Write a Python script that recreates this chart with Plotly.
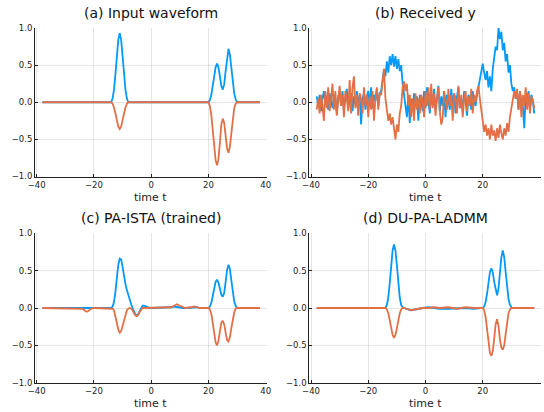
import plotly.graph_objects as go

# ---------------- data ----------------
# (a) input waveform (sparse samples; flat zero stretches between them)
t_a = [-38, -14, -13.5, -13, -12.5, -12, -11.5, -11, -10.5, -10, -9.5, -9, -8.5, -8,
       20, 20.5, 21, 21.5, 22, 22.5, 23, 23.5, 24, 24.5, 25, 25.5, 26, 26.5, 27, 27.5,
       28, 28.5, 29, 29.5, 30, 38]
xr_a = [0.0, 0.0, 0.05, 0.17, 0.38, 0.62, 0.84, 0.93, 0.84, 0.62, 0.38, 0.17, 0.05, 0.0,
        0.0, 0.03, 0.10, 0.22, 0.36, 0.47, 0.52, 0.47, 0.35, 0.22, 0.17, 0.24, 0.42, 0.62,
        0.72, 0.64, 0.46, 0.27, 0.12, 0.04, 0.0, 0.0]
xi_a = [0.0, 0.0, -0.02, -0.07, -0.15, -0.24, -0.33, -0.36, -0.33, -0.24, -0.15, -0.07, -0.02, 0.0,
        0.0, -0.05, -0.17, -0.38, -0.60, -0.78, -0.85, -0.76, -0.54, -0.30, -0.22, -0.28, -0.45,
        -0.62, -0.68, -0.60, -0.42, -0.22, -0.08, -0.02, 0.0, 0.0]

# (b) received y, t = -38:0.5:38
t_b = [-38 + 0.5 * i for i in range(153)]
yr_b = [0.08, -0.05, 0.10, -0.12, 0.05, 0.15, -0.02, 0.08, -0.10, 0.12,
        0.02, -0.08, 0.10, 0.05, -0.15, 0.08, 0.12, -0.05, 0.15, -0.10,
        0.05, 0.18, -0.08, 0.02, 0.12, -0.12, 0.08, -0.02, 0.15, -0.05,
        0.10, -0.30, 0.05, 0.12, -0.10, 0.08, 0.15, -0.05, 0.20, -0.08,
        0.10, 0.02, 0.18, -0.05, 0.12,
        0.15, 0.30, 0.45, 0.35, 0.55, 0.40, 0.62, 0.50, 0.65, 0.48,
        0.62, 0.45, 0.58, 0.42, 0.50, 0.25, 0.05,
        -0.05, -0.20, 0.10, -0.28, 0.05, -0.10, 0.12, -0.05, 0.08, -0.25,
        0.10, 0.02, -0.12, 0.15, -0.08, 0.20, 0.05, -0.15, 0.12, -0.05,
        0.18, -0.10, 0.05, 0.22, -0.12, 0.08, -0.05, 0.15, -0.20, 0.10,
        0.02, -0.10, 0.18, -0.05, 0.12, -0.15, 0.08, 0.20, -0.08, 0.05,
        -0.12, 0.15, 0.02, -0.18, 0.10, 0.05, -0.10, 0.15, 0.00, -0.05,
        0.10, 0.20, 0.35, 0.45,
        0.52, 0.40, 0.30, 0.42, 0.20, 0.35, 0.15, 0.45, 0.60, 0.75,
        0.70, 1.00, 0.85, 0.95, 0.70, 0.80, 0.55, 0.65, 0.40, 0.50,
        0.25, 0.15, 0.20,
        0.05, 0.12, -0.10, 0.15, 0.00, -0.05, -0.35, 0.10, 0.05, 0.15,
        -0.08, 0.10, 0.02, -0.15]
yi_b = [-0.10, 0.05, -0.15, 0.10, -0.05, -0.25, 0.15, -0.08, 0.20, -0.12,
        0.05, 0.25, -0.10, 0.15, -0.18, 0.08, 0.22, -0.05, 0.10, -0.20,
        0.15, 0.05, -0.12, 0.30, -0.15, 0.20, 0.35, -0.08, 0.10, -0.18,
        0.12, 0.05, -0.15, 0.20, -0.05, 0.10, -0.20, 0.08, -0.10, 0.15,
        -0.25, 0.05, 0.20, -0.10, 0.12,
        0.10, 0.30, 0.45, 0.05, -0.10, -0.25, -0.15, -0.30, -0.20, -0.40,
        -0.50, -0.30, -0.40, -0.15, -0.05, 0.20, 0.28,
        0.15, 0.25, -0.05, 0.10, -0.20, 0.05, -0.25, 0.12, -0.10, 0.05,
        -0.15, 0.10, 0.02, -0.20, 0.15, -0.05, 0.20, -0.10, 0.25, -0.08,
        0.12, -0.18, 0.05, 0.20, -0.12, -0.30, -0.22, 0.15, 0.02, -0.10,
        0.18, -0.05, 0.10, -0.25, 0.12, 0.05, -0.15, 0.22, -0.08, 0.10,
        -0.20, 0.05, 0.15, -0.12, 0.08, -0.05, 0.18, -0.15, 0.10, 0.00,
        0.15, 0.22, 0.05, -0.15,
        -0.25, -0.40, -0.30, -0.45, -0.35, -0.50, -0.30, -0.45, -0.38, -0.52,
        -0.35, -0.48, -0.30, -0.42, -0.50, -0.35, -0.45, -0.28, -0.40, -0.20,
        -0.10, 0.05, 0.15,
        0.05, 0.18, -0.10, 0.15, -0.20, 0.10, -0.05, 0.20, -0.10, 0.12,
        -0.15, 0.08, 0.02, -0.08]

# (c) PA-ISTA (trained)
t_c = [-38, -25, -24, -23, -22.5, -22, -21, -20,
       -14, -13.5, -13, -12.5, -12, -11.5, -11, -10.5, -10, -9.5, -9, -8.5, -8,
       -7.5, -7, -6.5, -6, -5.5, -5, -4.5, -4, -3.5, -3, -2.5, -2, -1.5, -1, 0,
       4, 6, 7, 8, 9, 10, 11, 12, 14, 15, 16, 17, 19,
       20, 20.5, 21, 21.5, 22, 22.5, 23, 23.5, 24, 24.5, 25, 25.5, 26, 26.5, 27, 27.5,
       28, 28.5, 29, 29.5, 30, 38]
xr_c = [0.0, 0.0, 0.01, 0.01, 0.01, 0.01, 0.0, 0.0,
        0.0, 0.02, 0.08, 0.22, 0.42, 0.58, 0.66, 0.65, 0.55, 0.42, 0.32, 0.24, 0.17,
        0.11, 0.05, 0.00, -0.05, -0.09, -0.10, -0.08, -0.04, 0.00, 0.03, 0.03, 0.02, 0.01, 0.01, 0.0,
        0.0, 0.01, 0.01, 0.02, 0.01, 0.01, 0.0, 0.0, 0.01, 0.01, 0.01, 0.0, 0.0,
        0.0, 0.02, 0.07, 0.16, 0.27, 0.35, 0.38, 0.34, 0.26, 0.18, 0.15, 0.20, 0.35, 0.51,
        0.58, 0.52, 0.37, 0.21, 0.09, 0.03, 0.0, 0.0]
xi_c = [0.0, 0.0, -0.01, -0.04, -0.05, -0.04, -0.01, 0.0,
        0.0, -0.01, -0.03, -0.10, -0.20, -0.29, -0.33, -0.31, -0.24, -0.15, -0.08, -0.03, -0.01,
        0.0, -0.01, -0.03, -0.07, -0.10, -0.11, -0.09, -0.05, -0.02, 0.0, 0.0, 0.0, 0.0, 0.0, 0.0,
        0.0, 0.0, 0.01, 0.03, 0.05, 0.03, 0.01, 0.0, 0.01, 0.02, 0.01, 0.0, 0.0,
        0.0, -0.02, -0.08, -0.20, -0.35, -0.46, -0.50, -0.44, -0.31, -0.20, -0.17, -0.22,
        -0.33, -0.43, -0.45, -0.39, -0.27, -0.14, -0.06, -0.01, 0.0, 0.0]

# (d) DU-PA-LADMM
t_d = [-38, -30, -24, -20, -17, -15, -14, -13.5, -13, -12.5, -12, -11.5, -11, -10.5, -10,
       -9.5, -9, -8.5, -8, -7.5, -7, -6, -5, -4, -3, -1, 1, 3, 5, 8, 11, 14, 17,
       20, 20.5, 21, 21.5, 22, 22.5, 23, 23.5, 24, 24.5, 25, 25.5, 26, 26.5, 27, 27.5,
       28, 28.5, 29, 29.5, 30, 30.5, 38]
xr_d = [0.0, 0.0, 0.01, 0.0, 0.01, 0.0, 0.0, 0.04, 0.14, 0.33, 0.57, 0.77, 0.85, 0.77, 0.57,
        0.33, 0.14, 0.04, 0.01, 0.0, -0.01, -0.02, -0.03, -0.02, -0.01, 0.0, 0.01, 0.0, -0.01, -0.01, 0.0, 0.0, -0.01,
        0.0, 0.02, 0.08, 0.19, 0.35, 0.48, 0.53, 0.48, 0.35, 0.23, 0.17, 0.26, 0.48, 0.68,
        0.77, 0.68, 0.48, 0.27, 0.12, 0.04, 0.01, 0.0, 0.0]
xi_d = [0.0, 0.0, 0.01, 0.0, 0.01, 0.0, 0.0, -0.02, -0.07, -0.16, -0.27, -0.36, -0.40, -0.36, -0.27,
        -0.16, -0.07, -0.02, 0.0, 0.0, -0.01, -0.02, -0.03, -0.02, -0.01, 0.0, 0.0, 0.01, 0.0, 0.01, -0.01, 0.01, 0.0,
        0.0, -0.03, -0.12, -0.28, -0.47, -0.60, -0.64, -0.58, -0.41, -0.22, -0.15, -0.24, -0.42, -0.53,
        -0.56, -0.50, -0.35, -0.18, -0.07, -0.02, 0.0, 0.0, 0.0]

titles = ["(a) Input waveform", "(b) Received y", "(c) PA-ISTA (trained)", "(d) DU-PA-LADMM"]
x_label = "time t"
x_ticks = [-40, -20, 0, 20, 40]
y_ticks = [-1.0, -0.5, 0.0, 0.5, 1.0]

BLUE = "#009AFA"
ORANGE = "#E36F47"

# ---------------- figure ----------------
W, H = 544, 412
fig = go.Figure()

panels = [
    (t_a, xr_a, xi_a),
    (t_b, yr_b, yi_b),
    (t_c, xr_c, xi_c),
    (t_d, xr_d, xi_d),
]

# pixel boxes: (left, right, top, bottom)
boxes = [
    (35.0, 266.7, 28.0, 176.5),
    (309.3, 541.0, 28.0, 176.5),
    (35.0, 266.7, 233.3, 382.7),
    (309.3, 541.0, 233.3, 382.7),
]

FONT = "DejaVu Sans, sans-serif"
axis_font = dict(family=FONT, size=8.5, color="#222222")

for i, ((tt, re, im), (l, r, top, bot)) in enumerate(zip(panels, boxes)):
    n = i + 1
    xa = "x" if n == 1 else f"x{n}"
    ya = "y" if n == 1 else f"y{n}"
    fig.add_trace(go.Scatter(x=tt, y=re, mode="lines", line=dict(color=BLUE, width=1.8),
                             xaxis=xa, yaxis=ya, showlegend=False))
    fig.add_trace(go.Scatter(x=tt, y=im, mode="lines", line=dict(color=ORANGE, width=1.8),
                             xaxis=xa, yaxis=ya, showlegend=False))
    xkey = "xaxis" if n == 1 else f"xaxis{n}"
    ykey = "yaxis" if n == 1 else f"yaxis{n}"
    fig.update_layout(**{
        xkey: dict(domain=[l / W, r / W], anchor=ya, range=[-40.6, 40.35], automargin=False,
                   tickvals=x_ticks, ticktext=[f"{v}".replace("-", "\u2212") for v in x_ticks],
                   showgrid=True, gridcolor="rgba(0,0,0,0.1)", gridwidth=0.8,
                   zeroline=False, showline=True, linecolor="#222222", linewidth=1,
                   ticks="inside", ticklen=3, tickcolor="#222222",
                   tickfont=axis_font),
        ykey: dict(domain=[1 - bot / H, 1 - top / H], anchor=xa, range=[-1.0, 1.0], automargin=False,
                   tickvals=y_ticks, ticktext=[f"{v:.1f}".replace("-", "\u2212") for v in y_ticks],
                   showgrid=True, gridcolor="rgba(0,0,0,0.1)", gridwidth=0.8,
                   zeroline=False, showline=True, linecolor="#222222", linewidth=1,
                   ticks="inside", ticklen=3, tickcolor="#222222",
                   tickfont=axis_font),
    })
    cx = (l + r) / 2 / W
    fig.add_annotation(text=titles[i], xref="paper", yref="paper",
                       x=cx, y=1 - (top - 15) / H, xanchor="center", yanchor="middle",
                       showarrow=False, font=dict(family=FONT, size=14, color="#111111"))
    fig.add_annotation(text=x_label, xref="paper", yref="paper",
                       x=cx, y=1 - (bot + 21) / H, xanchor="center", yanchor="middle",
                       showarrow=False, font=dict(family=FONT, size=11, color="#222222"))

fig.update_layout(width=W, height=H, margin=dict(l=0, r=0, t=0, b=0, autoexpand=False),
                  paper_bgcolor="white", plot_bgcolor="white")

fig.write_html("out.html", config={"displayModeBar": False},
               post_script="document.body.style.margin='0';document.body.style.overflow='hidden';")
